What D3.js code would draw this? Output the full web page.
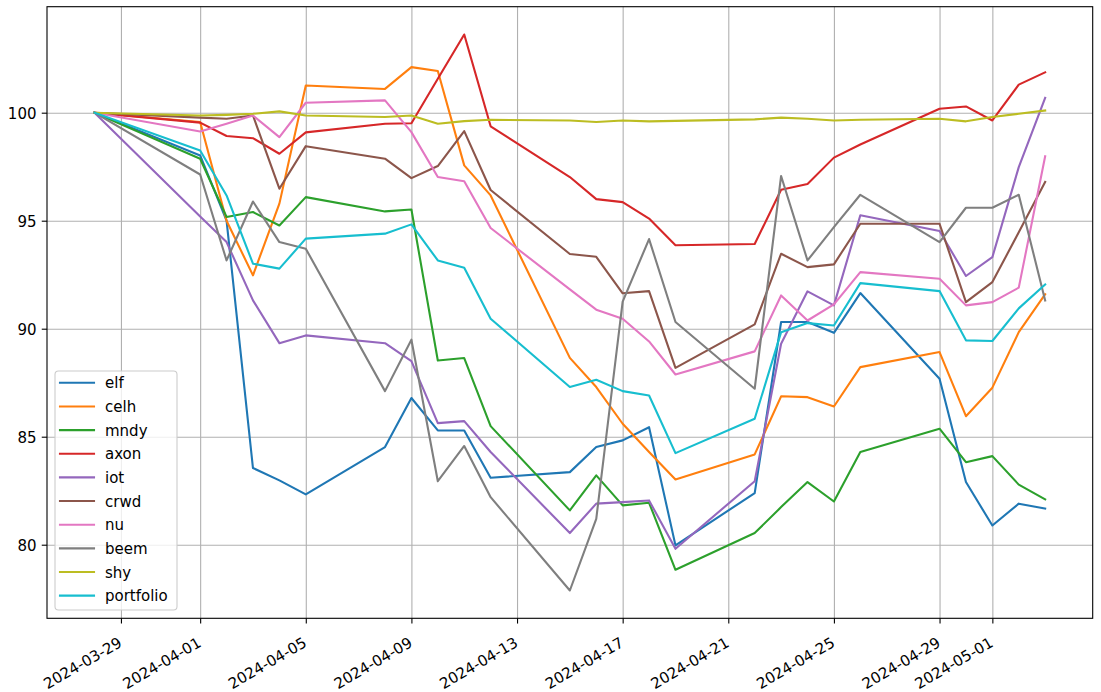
<!DOCTYPE html>
<html><head><meta charset="utf-8">
<script src="https://cdn.jsdelivr.net/npm/d3@7/dist/d3.min.js"></script>
<style>
body{margin:0;background:#fff;}
svg{display:block;font-family:"DejaVu Sans",sans-serif;}
</style>
</head><body>
<svg id="chart" width="1101" height="692"></svg>
<script>
const dates = ["2024-03-28","2024-04-01","2024-04-02","2024-04-03","2024-04-04","2024-04-05","2024-04-08","2024-04-09","2024-04-10","2024-04-11","2024-04-12","2024-04-15","2024-04-16","2024-04-17","2024-04-18","2024-04-19","2024-04-22","2024-04-23","2024-04-24","2024-04-25","2024-04-26","2024-04-29","2024-04-30","2024-05-01","2024-05-02","2024-05-03"];
const elf  = [100, 98.02, 95.0, 83.55, 82.98, 82.33, 84.52, 86.79, 85.29, 85.29, 83.1, 83.36, 84.52, 84.83, 85.44, 79.97, 82.39, 90.31, 90.31, 89.81, 91.65, 87.68, 82.9, 80.89, 81.9, 81.67];
const celh = [100, 99.57, 95.0, 92.47, 95.79, 101.26, 101.1, 102.11, 101.93, 97.56, 96.17, 88.65, 87.3, 85.6, 84.29, 83.02, 84.18, 86.87, 86.83, 86.4, 88.22, 88.92, 85.95, 87.27, 89.84, 91.6];
const mndy = [100, 97.87, 95.17, 95.4, 94.78, 96.09, 95.43, 95.52, 88.53, 88.64, 85.49, 81.59, 83.21, 81.82, 81.94, 78.84, 80.54, 81.74, 82.9, 82.0, 84.29, 85.37, 83.82, 84.1, 82.78, 82.1];
const axon = [100, 99.54, 98.92, 98.82, 98.1, 99.09, 99.49, 99.51, 101.57, 103.62, 99.37, 97.02, 96.0, 95.86, 95.1, 93.86, 93.92, 96.43, 96.7, 97.92, 98.53, 100.18, 100.29, 99.64, 101.3, 101.87];
const iot  = [100, 95.2, 94.01, 91.31, 89.33, 89.69, 89.33, 88.5, 85.63, 85.72, 84.29, 80.54, 81.9, 81.97, 82.05, 79.81, 82.94, 89.3, 91.73, 91.08, 95.25, 94.52, 92.44, 93.31, 97.48, 100.69];
const crwd = [100, 99.77, 99.72, 99.87, 96.48, 98.45, 97.87, 96.97, 97.53, 99.15, 96.42, 93.46, 93.33, 91.64, 91.74, 88.19, 90.2, 93.47, 92.85, 92.98, 94.86, 94.86, 91.23, 92.16, 94.46, 96.79];
const nu   = [100, 99.13, 99.49, 99.87, 98.87, 100.46, 100.57, 99.1, 97.02, 96.83, 94.66, 91.82, 90.88, 90.46, 89.41, 87.88, 88.95, 91.54, 90.38, 91.13, 92.62, 92.31, 91.08, 91.23, 91.9, 97.98];
const beem = [100, 97.14, 93.16, 95.89, 94.01, 93.7, 87.11, 89.49, 82.94, 84.57, 82.2, 77.88, 81.2, 91.25, 94.15, 90.31, 87.22, 97.07, 93.16, 94.7, 96.2, 94.01, 95.6, 95.6, 96.2, 91.31];
const shy  = [100, 99.87, 99.9, 99.95, 100.06, 99.87, 99.8, 99.87, 99.49, 99.61, 99.67, 99.64, 99.57, 99.64, 99.6, 99.62, 99.69, 99.77, 99.72, 99.64, 99.67, 99.72, 99.6, 99.8, 99.95, 100.1];
const portfolio = [100, 98.25, 96.17, 93.01, 92.78, 94.17, 94.4, 94.83, 93.16, 92.82, 90.46, 87.3, 87.64, 87.11, 86.91, 84.24, 85.83, 89.84, 90.26, 90.15, 92.11, 91.74, 89.46, 89.43, 90.94, 92.05];

const seriesNames = ["elf","celh","mndy","axon","iot","crwd","nu","beem","shy","portfolio"];
const seriesValues = [elf, celh, mndy, axon, iot, crwd, nu, beem, shy, portfolio];
const colors = ["#1f77b4","#ff7f0e","#2ca02c","#d62728","#9467bd","#8c564b","#e377c2","#7f7f7f","#bcbd22","#17becf"];
const yTickValues = [80, 85, 90, 95, 100];
const xTickLabels = ["2024-03-29","2024-04-01","2024-04-05","2024-04-09","2024-04-13","2024-04-17","2024-04-21","2024-04-25","2024-04-29","2024-05-01"];

const svg = d3.select("#chart");
const box = {left: 47, right: 1092.7, top: 6.7, bottom: 618.3};
const parse = d3.utcParse("%Y-%m-%d");
const xd = dates.map(parse);
const t0 = +xd[0], t1 = +xd[xd.length - 1], ts = t1 - t0;
const x = d3.scaleUtc().domain([new Date(t0 - 0.05 * ts), new Date(t1 + 0.05 * ts)]).range([box.left, box.right]);
const all = seriesValues.flat();
const vmin = d3.min(all), vmax = d3.max(all), vs = vmax - vmin;
const y = d3.scaleLinear().domain([vmin - 0.05 * vs, vmax + 0.05 * vs]).range([box.bottom, box.top]);
const xTicks = xTickLabels.map(parse);
const FS = 15, XFS = 15, TL = 5.25, PAD = 5.25;

// grid
svg.append("g").attr("transform", `translate(0,${box.bottom})`)
  .call(d3.axisBottom(x).tickValues(xTicks).tickSize(-(box.bottom - box.top)).tickFormat(""))
  .call(g => g.select(".domain").remove())
  .selectAll("line").attr("stroke", "#b0b0b0").attr("stroke-width", 1.1);
svg.append("g").attr("transform", `translate(${box.left},0)`)
  .call(d3.axisLeft(y).tickValues(yTickValues).tickSize(-(box.right - box.left)).tickFormat(""))
  .call(g => g.select(".domain").remove())
  .selectAll("line").attr("stroke", "#b0b0b0").attr("stroke-width", 1.1);

// lines
const line = d3.line().x((d, i) => x(xd[i])).y(d => y(d));
const plot = svg.append("g");
seriesValues.forEach((vals, k) => {
  plot.append("path").datum(vals).attr("d", line)
    .attr("fill", "none").attr("stroke", colors[k]).attr("stroke-width", 2.1)
    .attr("stroke-linejoin", "round").attr("stroke-linecap", "square");
});

// spines
svg.append("rect").attr("x", box.left).attr("y", box.top)
  .attr("width", box.right - box.left).attr("height", box.bottom - box.top)
  .attr("fill", "none").attr("stroke", "#000").attr("stroke-width", 1.1);

// x axis
const xa = svg.append("g").attr("transform", `translate(0,${box.bottom})`)
  .call(d3.axisBottom(x).tickValues(xTicks).tickSize(TL).tickFormat(d3.utcFormat("%Y-%m-%d")));
xa.select(".domain").remove();
xa.selectAll("line").attr("stroke", "#000").attr("stroke-width", 1.1);
xa.selectAll("text")
  .attr("font-size", XFS).attr("font-family", "DejaVu Sans").attr("fill", "#000")
  .attr("text-anchor", "end").attr("x", 0).attr("y", 0).attr("dy", null)
  .attr("transform", "translate(1.5,27.5) rotate(-30)");

// y axis
const ya = svg.append("g").attr("transform", `translate(${box.left},0)`)
  .call(d3.axisLeft(y).tickValues(yTickValues).tickSize(TL).tickPadding(PAD));
ya.select(".domain").remove();
ya.selectAll("line").attr("stroke", "#000").attr("stroke-width", 1.1);
ya.selectAll("text").attr("font-size", FS).attr("font-family", "DejaVu Sans").attr("fill", "#000")
  .attr("dy", "0.36em");

// legend
const lg = svg.append("g");
lg.append("rect").attr("x", 55).attr("y", 371).attr("width", 122).attr("height", 239)
  .attr("rx", 3.5).attr("fill", "#fff").attr("fill-opacity", 0.8)
  .attr("stroke", "#cccccc").attr("stroke-width", 1.1);
seriesNames.forEach((n, k) => {
  const ry = 382.8 + k * 23.65;
  lg.append("line").attr("x1", 60).attr("x2", 94).attr("y1", ry).attr("y2", ry)
    .attr("stroke", colors[k]).attr("stroke-width", 2.1).attr("stroke-linecap", "square");
  lg.append("text").attr("x", 105).attr("y", ry + 5.5).attr("font-size", FS)
    .attr("fill", "#000").text(n);
});
</script>
</body></html>
